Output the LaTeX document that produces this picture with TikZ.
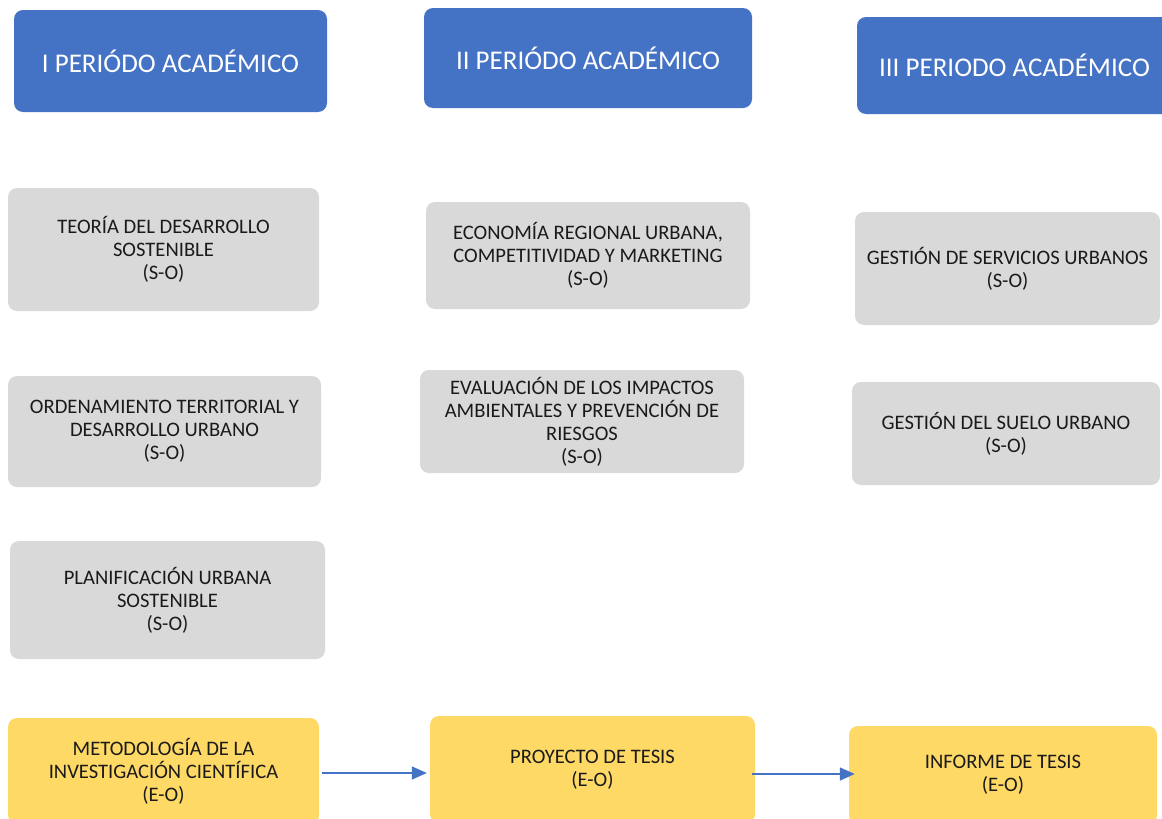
\documentclass[tikz,border=0pt]{standalone}
\usepackage{fontspec}
\setmainfont{Carlito}
\usepackage{xcolor}
\usetikzlibrary{arrows.meta}
\definecolor{PABlue}{HTML}{4472C4}
\definecolor{PAGray}{HTML}{D9D9D9}
\definecolor{PAYellow}{HTML}{FFD966}
\definecolor{PAText}{HTML}{1A1A1A}
\begin{document}
\begin{tikzpicture}[x=1pt,y=-1pt,
  caja/.style={rectangle,rounded corners=9pt,inner sep=0pt,align=center,
    font=\fontsize{20.6}{23}\selectfont,text=PAText},
  periodo/.style={caja,fill=PABlue,text=white,font=\fontsize{27}{30}\selectfont},
  curso/.style={caja,fill=PAGray},
  tesis/.style={caja,fill=PAYellow},
  flecha/.style={draw=PABlue,line width=1.5pt,-{Triangle[length=15pt,width=13pt]}}]
\path[use as bounding box] (0,0) rectangle (1162,819);
\fill[white] (0,0) rectangle (1162,819);
\node[periodo,minimum width=313pt,minimum height=102pt] (per1) at (170.5,61) {I PERIÓDO ACADÉMICO};
\node[periodo,minimum width=328pt,minimum height=100pt] (per2) at (588,58) {II PERIÓDO ACADÉMICO};
\node[periodo,minimum width=315pt,minimum height=97pt] (per3) at (1014.5,65.5) {III PERIODO ACADÉMICO};
\node[curso,minimum width=311pt,minimum height=123pt] (teoria) at (163.5,249.5) {TEORÍA DEL DESARROLLO\\SOSTENIBLE\\(S-O)};
\node[curso,minimum width=313pt,minimum height=111pt] (ordena) at (164.5,431.5) {ORDENAMIENTO TERRITORIAL Y\\DESARROLLO URBANO\\(S-O)};
\node[curso,minimum width=315pt,minimum height=118pt] (planif) at (167.5,600) {PLANIFICACIÓN URBANA\\SOSTENIBLE\\(S-O)};
\node[curso,minimum width=324pt,minimum height=107pt] (econo) at (588,255.5) {ECONOMÍA REGIONAL URBANA,\\COMPETITIVIDAD Y MARKETING\\(S-O)};
\node[curso,minimum width=324pt,minimum height=103pt] (evalua) at (582,421.5) {EVALUACIÓN DE LOS IMPACTOS\\AMBIENTALES Y PREVENCIÓN DE\\RIESGOS\\(S-O)};
\node[curso,minimum width=305pt,minimum height=113pt] (servic) at (1007.5,268.5) {GESTIÓN DE SERVICIOS URBANOS\\(S-O)};
\node[curso,minimum width=308pt,minimum height=103pt] (suelo) at (1006,433.5) {GESTIÓN DEL SUELO URBANO\\(S-O)};
\node[tesis,minimum width=311pt,minimum height=106pt] (metodo) at (163.5,771) {METODOLOGÍA DE LA\\INVESTIGACIÓN CIENTÍFICA\\(E-O)};
\node[tesis,minimum width=325pt,minimum height=107pt] (proyec) at (592.5,769.5) {PROYECTO DE TESIS\\(E-O)};
\node[tesis,minimum width=308pt,minimum height=98pt] (inform) at (1003,775) {INFORME DE TESIS\\(E-O)};
\draw[flecha,shorten <=3pt,shorten >=3pt] ([yshift=-2pt]metodo.east) -- ([yshift=-2pt]metodo.east -| proyec.west);
\draw[flecha,shorten <=-3pt,shorten >=-6pt] ([yshift=-4.5pt]proyec.east) -- ([yshift=-4.5pt]proyec.east -| inform.west);
\end{tikzpicture}
\end{document}
